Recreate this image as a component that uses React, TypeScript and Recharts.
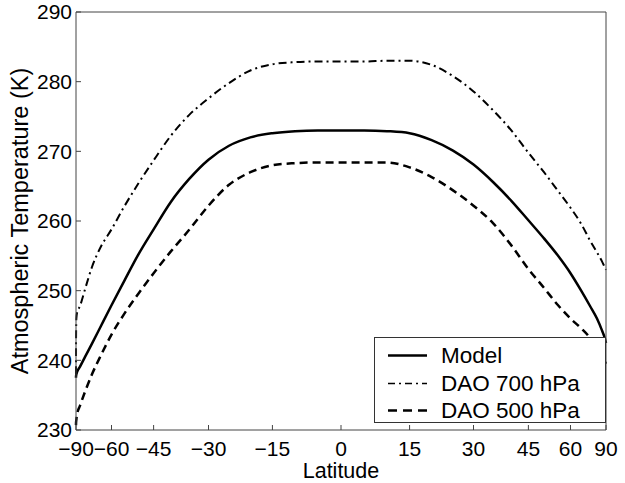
import React from "react";
import { LineChart, Line, XAxis, YAxis, Legend } from "recharts";

// latitude (deg) and zonal mean temperatures (K)
const latitude = [
  -90, -89, -87, -85, -80, -75, -70, -65, -60, -55, -50, -45, -40, -35, -30, -25, -20, -15, -10, -5,
  0, 5, 10, 15, 20, 25, 30, 35, 40, 45, 50, 55, 60, 65, 70, 75, 80, 85, 90,
];
const model = [
  237.5, 237.7, 238.0, 238.3, 239.1, 240.5, 242.4, 244.9, 247.9, 251.3, 255.1, 258.8, 262.7, 266.0, 268.8, 270.8, 272.0, 272.6, 272.9, 273.0,
  273.0, 273.0, 272.9, 272.6, 271.6, 270.1, 268.1, 265.6, 262.9, 260.1, 257.5, 255.0, 252.5, 250.0, 247.8, 246.0, 244.3, 243.1, 242.5,
];
const dao700 = [
  238.0, 243.0, 246.0, 246.8, 247.8, 250.2, 253.4, 256.3, 258.8, 262.0, 265.3, 268.7, 272.2, 275.2, 277.6, 279.8, 281.6, 282.5, 282.8, 282.9,
  282.9, 282.9, 283.0, 283.0, 282.4, 280.8, 278.6, 275.9, 273.0, 269.8, 267.0, 264.3, 261.9, 259.6, 257.2, 255.5, 254.2, 253.3, 253.0,
];
const dao500 = [
  230.7, 231.0, 231.5, 232.2, 233.5, 235.5, 238.0, 240.7, 243.7, 246.6, 249.5, 252.5, 255.6, 258.7, 262.2, 265.2, 267.0, 268.0, 268.3, 268.4,
  268.4, 268.4, 268.4, 267.7, 266.3, 264.4, 262.2, 259.7, 256.5, 253.1, 250.4, 247.9, 246.0, 244.6, 243.2, 241.6, 240.5, 239.8, 239.5,
];

const latTicks = [-90, -60, -45, -30, -15, 0, 15, 30, 45, 60, 90];
const tempTicks = [230, 240, 250, 260, 270, 280, 290];

const legendItems = [
  { key: "model", name: "Model", dash: undefined, width: 2.5 },
  { key: "dao700", name: "DAO 700 hPa", dash: "7 4 2 4", width: 1.5 },
  { key: "dao500", name: "DAO 500 hPa", dash: "9 6", width: 2.5 },
];

const FONT = "'Liberation Sans', Arial, Helvetica, sans-serif";
const AXIS = "#444";

// x axis is linear in sin(latitude)
const toSin = (lat: number) => Math.sin((lat * Math.PI) / 180);
const data = latitude.map((lat, i) => ({
  s: toSin(lat),
  model: model[i],
  dao700: dao700[i],
  dao500: dao500[i],
}));
const xTicks = latTicks.map(toSin);

const fmtLat = (v: number) => {
  const d = Math.round((Math.asin(Math.max(-1, Math.min(1, v))) * 180) / Math.PI);
  return d < 0 ? "\u2212" + Math.abs(d) : String(d);
};

const YTitle = (props: any) => {
  const vb = props.viewBox;
  const cx = vb.x + vb.width - 56;
  const cy = vb.y + vb.height / 2;
  return (
    <text
      x={cx}
      y={cy}
      transform={`rotate(-90 ${cx} ${cy})`}
      textAnchor="middle"
      dominantBaseline="central"
      fontFamily={FONT}
      fontSize={23.5}
      fill="#000"
    >
      Atmospheric Temperature (K)
    </text>
  );
};

const XTitle = (props: any) => {
  const vb = props.viewBox;
  return (
    <text
      x={vb.x + vb.width / 2}
      y={vb.y + vb.height + 47}
      textAnchor="middle"
      fontFamily={FONT}
      fontSize={21.5}
      fill="#000"
    >
      Latitude
    </text>
  );
};

const LegendBox = () => (
  <div
    style={{
      boxSizing: "border-box",
      width: 232,
      height: 86,
      border: "1px solid #333",
      background: "#fff",
      paddingTop: 4,
      fontFamily: FONT,
      fontSize: 22.5,
      color: "#000",
    }}
  >
    {legendItems.map((item) => (
      <div key={item.key} style={{ display: "flex", alignItems: "center", height: 27.5, lineHeight: "27.5px" }}>
        <svg width={66} height={27} style={{ display: "block" }}>
          <line x1={13} x2={52} y1={13.5} y2={13.5} stroke="#000" strokeWidth={item.width} strokeDasharray={item.dash} />
        </svg>
        <span>{item.name}</span>
      </div>
    ))}
  </div>
);

export default function App() {
  const tickStyle = { fontFamily: FONT, fontSize: 21, fill: "#000" };
  return (
    <div style={{ position: "absolute", left: 0, top: 0, background: "#fff" }}>
      <LineChart width={625} height={483} data={data} margin={{ top: 11, right: 18, bottom: 52, left: 75 }}>
        <XAxis
          xAxisId="b"
          dataKey="s"
          type="number"
          domain={[-1, 1]}
          ticks={xTicks}
          interval={0}
          tickFormatter={fmtLat}
          tick={tickStyle}
          tickSize={-5}
          tickMargin={16}
          height={1}
          stroke={AXIS}
          label={<XTitle />}
        />
        <XAxis
          xAxisId="t"
          orientation="top"
          dataKey="s"
          type="number"
          domain={[-1, 1]}
          ticks={xTicks}
          interval={0}
          tick={false}
          tickSize={-5}
          height={1}
          stroke={AXIS}
        />
        <YAxis
          yAxisId="l"
          type="number"
          domain={[230, 290]}
          ticks={tempTicks}
          interval={0}
          tick={tickStyle}
          tickSize={-5}
          tickMargin={9}
          width={1}
          stroke={AXIS}
          label={<YTitle />}
        />
        <YAxis
          yAxisId="r"
          orientation="right"
          type="number"
          domain={[230, 290]}
          ticks={tempTicks}
          interval={0}
          tick={false}
          tickSize={-5}
          width={1}
          stroke={AXIS}
        />
        <Line xAxisId="b" yAxisId="l" type="monotone" dataKey="model" name="Model" stroke="#000" strokeWidth={2.5} dot={false} isAnimationActive={false} />
        <Line xAxisId="t" yAxisId="r" type="monotone" dataKey="dao700" name="DAO 700 hPa" stroke="#000" strokeWidth={2} strokeDasharray="8 4 2 4" dot={false} isAnimationActive={false} />
        <Line xAxisId="b" yAxisId="l" type="monotone" dataKey="dao500" name="DAO 500 hPa" stroke="#000" strokeWidth={2.5} strokeDasharray="8 5" dot={false} isAnimationActive={false} />
        <Legend
          layout="vertical"
          align="center"
          verticalAlign="middle"
          wrapperStyle={{ left: 374, top: 337, width: 232, height: 86 }}
          content={<LegendBox />}
        />
      </LineChart>
    </div>
  );
}
